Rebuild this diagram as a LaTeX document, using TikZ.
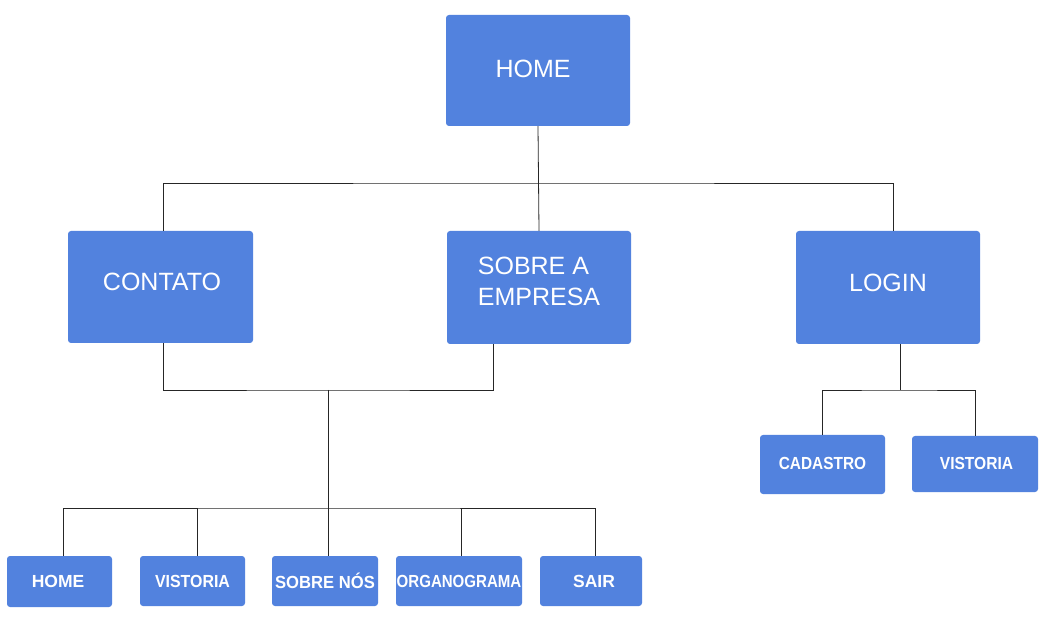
\documentclass[tikz,border=0pt]{standalone}
\usepackage{fontspec}
\setmainfont{Liberation Sans}
\usepackage{graphicx}
\definecolor{boxblue}{HTML}{5282DE}
\begin{document}
\begin{tikzpicture}[x=1pt,y=-1pt,
  box/.style={fill=boxblue, rounded corners=3pt, text=white, inner sep=0pt, anchor=center},
  bigbox/.style={box, minimum width=184pt, minimum height=112pt, font=\fontsize{25}{31}\selectfont},
  smallbox/.style={box, minimum height=50pt, font=\fontsize{17.5}{20}\selectfont\bfseries},
  conn/.style={draw=black!85, line width=0.8pt}]
\useasboundingbox (0,0) rectangle (1047,617);
% top level
\node[bigbox, minimum height=111pt] (home) at (538,70.5) {\hspace*{-10pt}\raisebox{3pt}{HOME}};
\node[bigbox, minimum width=185pt] (contato) at (160.5,287) {\hspace*{3pt}\raisebox{10pt}{CONTATO}};
\node[bigbox, minimum height=113pt] (sobre) at (539,287.5) {\raisebox{-3pt}[0pt][0pt]{\begin{tabular}{@{}l@{}}SOBRE A\\EMPRESA\end{tabular}}};
\node[bigbox, minimum height=113pt] (login) at (888,287.5) {\raisebox{10pt}{LOGIN}};
% login children
\node[smallbox, minimum width=125pt, minimum height=59pt] (cadastro) at (822.5,464.5) {\raisebox{1.5pt}{\scalebox{0.88}[1]{CADASTRO}}};
\node[smallbox, minimum width=126pt, minimum height=56pt] (vistR) at (975,464) {\hspace*{3pt}\raisebox{1.5pt}{\scalebox{0.89}[1]{VISTORIA}}};
% bottom row
\node[smallbox, minimum width=105pt, minimum height=51pt] (bHome) at (59.5,581.5) {\hspace*{-3pt}HOME};
\node[smallbox, minimum width=105pt] (bVist) at (192.5,581) {\scalebox{0.91}[1]{VISTORIA}};
\node[smallbox, minimum width=106pt] (bSobre) at (325,581) {\scalebox{0.95}[1]{SOBRE NÓS}};
\node[smallbox, minimum width=126pt] (bOrg) at (459,581) {\scalebox{0.86}[1]{ORGANOGRAMA}};
\node[smallbox, minimum width=102pt] (bSair) at (591,581) {\hspace*{6pt}SAIR};
% connectors from HOME
\coordinate (busTop) at (539,183);
\draw[conn] (home.south) -- (sobre.north);
\draw[conn] ([xshift=2.5pt]contato.north) |- (busTop) -| ([xshift=5pt]login.north);
% CONTATO and SOBRE to bottom row
\coordinate (busMid) at (328,390);
\coordinate (busLow) at (328,508);
\draw[conn] ([xshift=2.5pt]contato.south) |- (busMid) -| ([xshift=-46pt]sobre.south);
\draw[conn] (busMid) -- (busLow);
\draw[conn] ([xshift=3.5pt]bHome.north) |- (busLow) -| ([xshift=4pt]bSair.north);
\draw[conn] ([xshift=4.5pt]bVist.north) -- ([xshift=4.5pt]bVist.north |- busLow);
\draw[conn] ([xshift=3pt]bSobre.north) -- (busLow);
\draw[conn] ([xshift=2pt]bOrg.north) -- ([xshift=2pt]bOrg.north |- busLow);
% LOGIN children
\coordinate (busLogin) at (900,390);
\draw[conn] ([xshift=12pt]login.south) -- (busLogin);
\draw[conn] (cadastro.north) |- (busLogin) -| (vistR.north);
\end{tikzpicture}
\end{document}
